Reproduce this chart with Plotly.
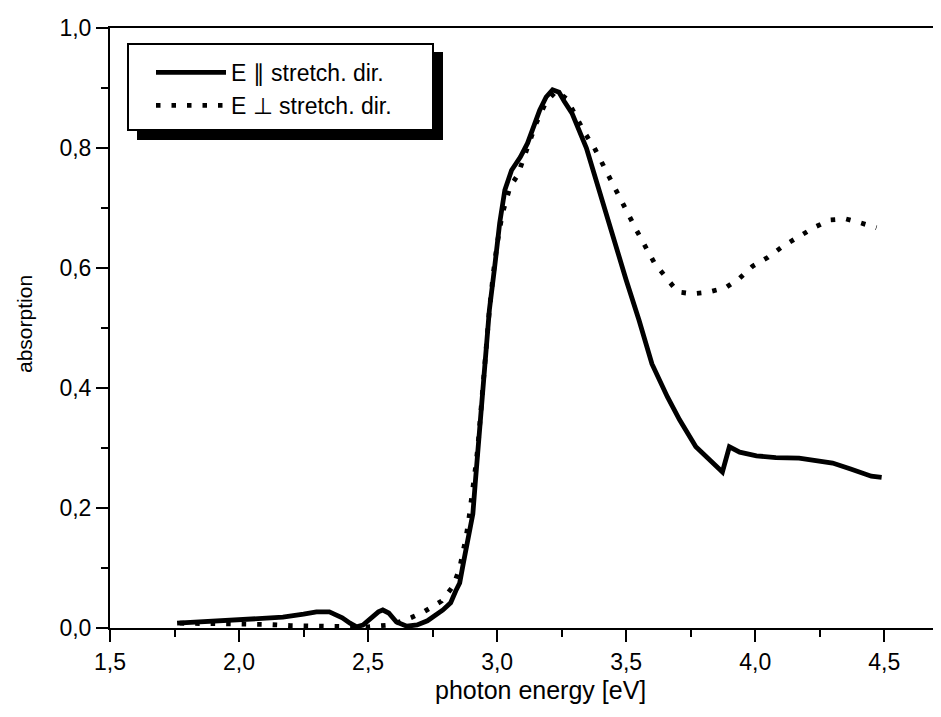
import plotly.graph_objects as go

# Data
par_x = [1.76, 1.85, 1.98, 2.10, 2.17, 2.25, 2.30, 2.35, 2.38, 2.40, 2.43, 2.456, 2.48, 2.51,
         2.54, 2.557, 2.58, 2.61, 2.65, 2.69, 2.73, 2.79, 2.82, 2.84, 2.855, 2.87, 2.88, 2.895,
         2.906, 2.915, 2.925, 2.945, 2.96, 2.97, 2.99, 3.01, 3.03, 3.056, 3.09, 3.118, 3.165,
         3.19, 3.215, 3.24, 3.26, 3.29, 3.346, 3.397, 3.447, 3.50, 3.55, 3.60, 3.66, 3.707,
         3.77, 3.835, 3.873, 3.90, 3.94, 4.005, 4.08, 4.17, 4.23, 4.30, 4.37, 4.45, 4.49]
par_y = [0.008, 0.010, 0.013, 0.016, 0.018, 0.023, 0.027, 0.027, 0.022, 0.017, 0.008, 0.002,
         0.005, 0.017, 0.027, 0.030, 0.025, 0.010, 0.003, 0.005, 0.012, 0.030, 0.042, 0.062,
         0.075, 0.110, 0.135, 0.165, 0.190, 0.240, 0.290, 0.390, 0.463, 0.530, 0.600, 0.675,
         0.730, 0.763, 0.785, 0.808, 0.863, 0.885, 0.897, 0.893, 0.878, 0.858, 0.800, 0.725,
         0.658, 0.580, 0.513, 0.440, 0.385, 0.347, 0.302, 0.275, 0.260, 0.302, 0.293, 0.287,
         0.284, 0.283, 0.280, 0.275, 0.265, 0.253, 0.251]

perp_x = [1.77, 1.90, 2.00, 2.10, 2.20, 2.30, 2.40, 2.50, 2.58, 2.63, 2.67, 2.72, 2.785, 2.83,
          2.855, 2.87, 2.88, 2.89, 2.90, 2.906, 2.915, 2.925, 2.94, 2.955, 2.97, 2.985, 3.00,
          3.02, 3.05, 3.08, 3.11, 3.15, 3.19, 3.23, 3.27, 3.31, 3.34, 3.377, 3.41, 3.474, 3.54,
          3.61, 3.70, 3.757, 3.82, 3.885, 3.94, 3.99, 4.05, 4.11, 4.17, 4.23, 4.29, 4.35, 4.41,
          4.47]
perp_y = [0.008, 0.008, 0.007, 0.006, 0.004, 0.003, 0.002, 0.002, 0.005, 0.011, 0.018, 0.028,
          0.045, 0.070, 0.100, 0.127, 0.152, 0.180, 0.208, 0.235, 0.263, 0.300, 0.380, 0.460,
          0.530, 0.590, 0.640, 0.690, 0.735, 0.755, 0.790, 0.840, 0.877, 0.895, 0.882, 0.847,
          0.825, 0.800, 0.772, 0.718, 0.663, 0.608, 0.560, 0.557, 0.560, 0.567, 0.583, 0.603,
          0.618, 0.637, 0.653, 0.668, 0.680, 0.682, 0.675, 0.667]

series_names = ["E \u2225 stretch. dir.", "E \u22a5 stretch. dir."]
x_title = "photon energy [eV]"
y_title = "absorption"

FONT = "Liberation Sans, Arial, sans-serif"

fig = go.Figure()
fig.add_trace(go.Scatter(x=par_x, y=par_y, mode="lines", name=series_names[0],
                         line=dict(color="black", width=4.8)))
fig.add_trace(go.Scatter(x=perp_x, y=perp_y, mode="lines", name=series_names[1],
                         line=dict(color="black", width=4.8, dash="4.5px,11px")))

# page has an 8px body margin: screen plot area is x 110..941, y 28..628
OFF = 8
W, H = 941 - OFF, 717 - OFF
SX0, SX1, SY0, SY1 = 110, 941, 28, 628
L, T = SX0 - OFF, SY0 - OFF
R = W - (SX1 - OFF)
B = H - (SY1 - OFF)
pw, ph = SX1 - SX0, SY1 - SY0


def px2paper(sx, sy):
    return (sx - SX0) / pw, (SY1 - sy) / ph


# legend frame + shadow
sx0, sy0 = px2paper(137, 52)
sx1, sy1 = px2paper(443, 140)
bx0, by0 = px2paper(128, 44)
bx1, by1 = px2paper(433, 130)
fig.add_shape(type="rect", xref="paper", yref="paper", x0=sx0, y0=sy0, x1=sx1, y1=sy1,
              fillcolor="black", line=dict(color="black", width=0), layer="above")
fig.add_shape(type="rect", xref="paper", yref="paper", x0=bx0, y0=by0, x1=bx1, y1=by1,
              fillcolor="white", line=dict(color="black", width=2), layer="above")

lx, ly = px2paper(151, 51)

# axis titles as annotations (positions measured on the reference)
tx, ty = px2paper(540, 690)
yx, yy = px2paper(24, 324)
fig.add_annotation(text=x_title, xref="paper", yref="paper", x=tx, y=ty,
                   xanchor="center", yanchor="middle", showarrow=False,
                   font=dict(family=FONT, size=25, color="black"))
fig.add_annotation(text=y_title, xref="paper", yref="paper", x=yx, y=yy, textangle=-90,
                   xanchor="center", yanchor="middle", showarrow=False,
                   font=dict(family=FONT, size=21, color="black"))

fig.update_layout(
    width=W, height=H,
    margin=dict(l=L, r=R, t=T, b=B, autoexpand=False),
    paper_bgcolor="white", plot_bgcolor="white",
    separators=",.",
    font=dict(family=FONT, size=20, color="black"),
    showlegend=True,
    legend=dict(x=lx, y=ly, xanchor="left", yanchor="top", bgcolor="rgba(0,0,0,0)",
                borderwidth=0, font=dict(family=FONT, size=23, color="black"),
                itemwidth=70),
    xaxis=dict(range=[1.5, 4.72], showgrid=False, zeroline=False, showline=True,
               linecolor="black", linewidth=2, mirror=True,
               ticks="outside", ticklen=12, tickwidth=2, tickcolor="black",
               tick0=1.5, dtick=0.5, tickformat=".1f",
               minor=dict(ticks="outside", ticklen=7, tickwidth=2, tickcolor="black",
                          dtick=0.25, showgrid=False),
               tickfont=dict(family=FONT, size=23)),
    yaxis=dict(range=[0, 1.0], showgrid=False, zeroline=False, showline=True,
               linecolor="black", linewidth=2, mirror=False,
               ticks="outside", ticklen=12, tickwidth=2, tickcolor="black",
               tick0=0, dtick=0.2, tickformat=".1f",
               minor=dict(ticks="outside", ticklen=7, tickwidth=2, tickcolor="black",
                          dtick=0.1, showgrid=False),
               tickfont=dict(family=FONT, size=23)),
)

fig.write_html("out.html")
